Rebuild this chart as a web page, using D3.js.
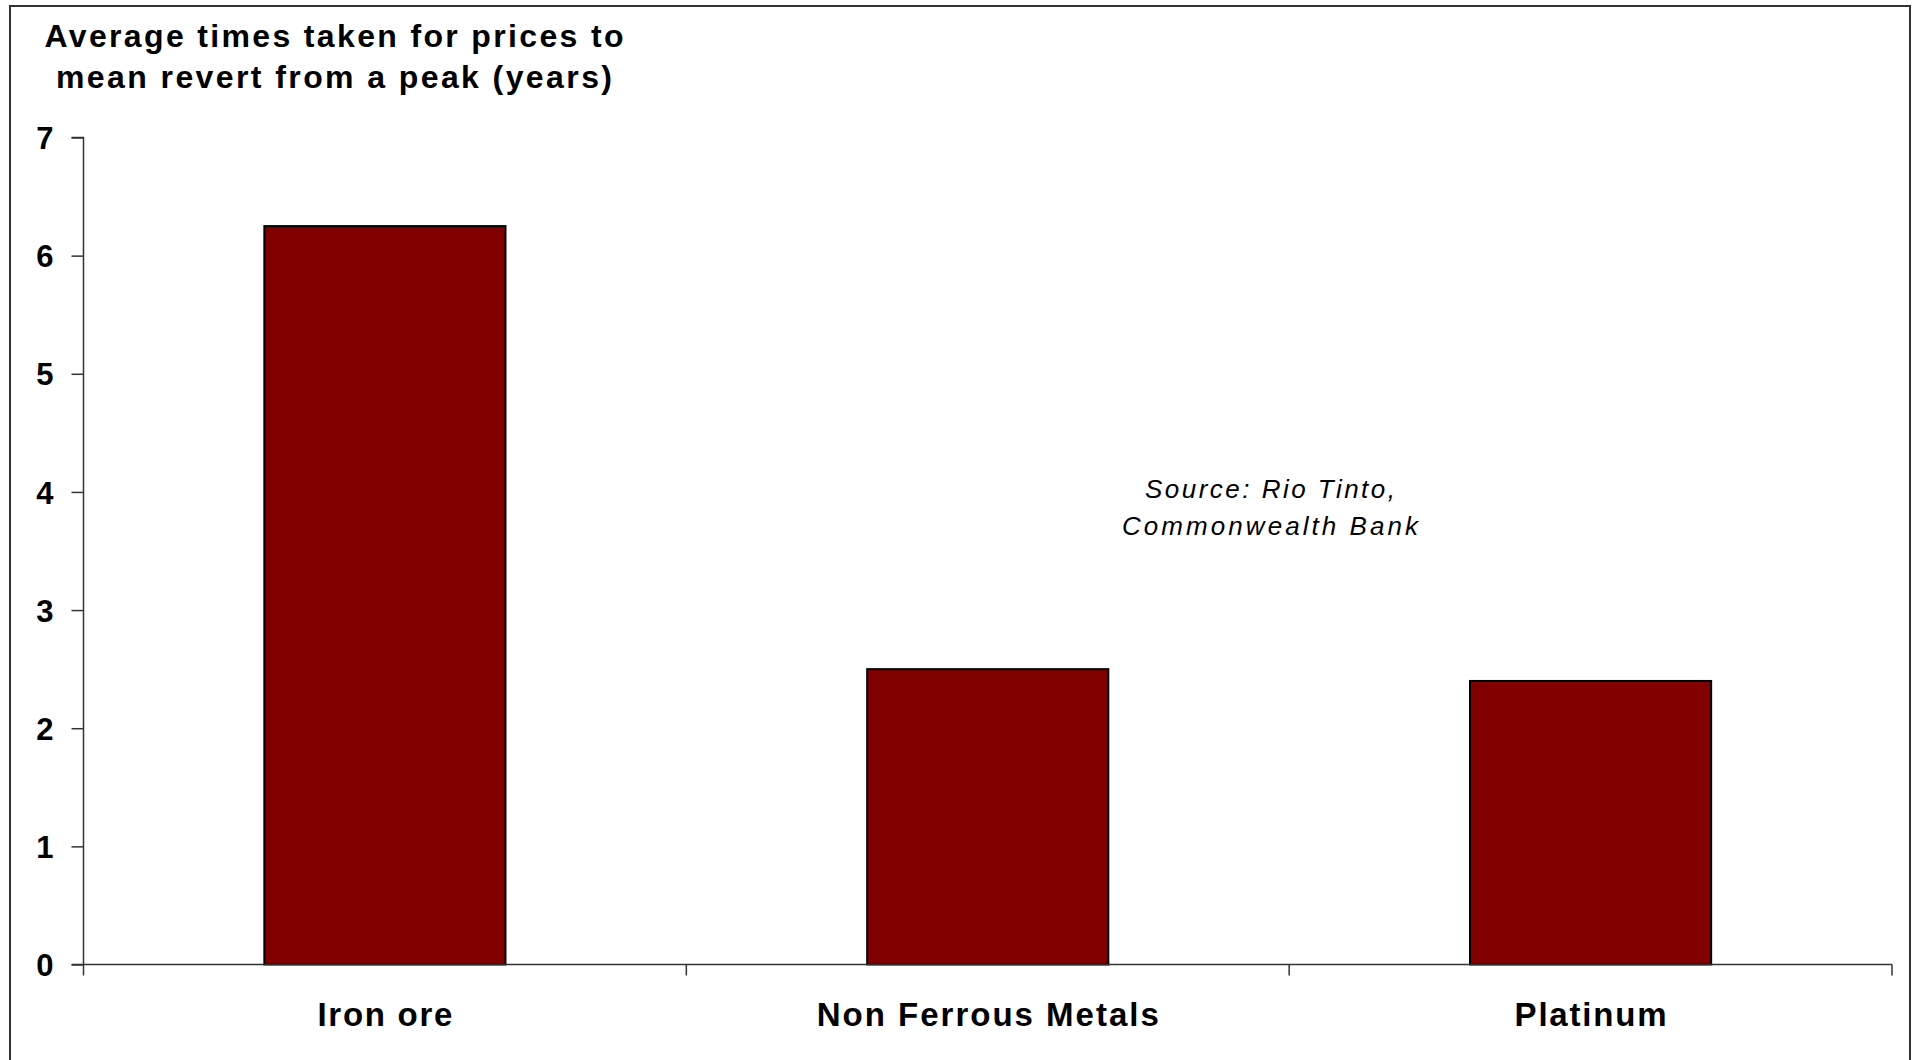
<!DOCTYPE html>
<html>
<head>
<meta charset="utf-8">
<script src="https://cdn.jsdelivr.net/npm/d3@7"></script>
<style>
  html, body { margin: 0; padding: 0; background: #fff; }
  svg { display: block; }
  text { font-family: Arial, "Liberation Sans", Helvetica, sans-serif; fill: #000; }
</style>
</head>
<body>
<svg id="chart" width="1912" height="1060"></svg>
<script>
const categories = ["Iron ore", "Non Ferrous Metals", "Platinum"];
const values = [6.25, 2.5, 2.4];
const yTickValues = [0, 1, 2, 3, 4, 5, 6, 7];
const titleLines = ["Average times taken for prices to", "mean revert from a peak (years)"];
const sourceLines = ["Source: Rio Tinto,", "Commonwealth Bank"];

const svg = d3.select("#chart");

// outer frame (bottom edge falls outside the picture)
svg.append("rect")
  .attr("x", 10).attr("y", 6)
  .attr("width", 1900).attr("height", 1100)
  .attr("fill", "none").attr("stroke", "#333").attr("stroke-width", 2);

const x0 = 83.5, x1 = 1892;
const x = d3.scaleBand().domain(categories).range([x0, x1])
  .paddingInner(0.6).paddingOuter(0.3);
const y = d3.scaleLinear().domain([0, 7]).range([964.5, 137.5]);

// bars
svg.append("g").selectAll("rect")
  .data(categories.map((c, i) => ({ c, v: values[i] })))
  .join("rect")
  .attr("x", d => x(d.c))
  .attr("y", d => y(d.v))
  .attr("width", x.bandwidth())
  .attr("height", d => y(0) - y(d.v))
  .attr("fill", "#800000")
  .attr("stroke", "#000")
  .attr("stroke-width", 2);

// y axis
const yAxis = d3.axisLeft(y).tickValues(yTickValues).tickSize(12).tickPadding(18)
  .tickFormat(d3.format("d"));
const gy = svg.append("g").attr("transform", `translate(${x0},0)`).call(yAxis);
gy.select(".domain").attr("stroke", "#333").attr("stroke-width", 1.5)
  .attr("d", `M-12,${y(7)}H0V${y(0)}`);
gy.selectAll(".tick line").attr("stroke", "#333").attr("stroke-width", 1.5);
gy.selectAll(".tick text")
  .attr("x", -30)
  .style("font-size", "31px").style("font-weight", "bold")
  .style("font-family", "Arial, 'Liberation Sans', sans-serif")
  .attr("dy", "0.36em");

// x axis line and boundary ticks
const step = x.step();
const boundaries = d3.range(categories.length + 1).map(i => x0 + i * step);
svg.append("line")
  .attr("x1", x0 - 12).attr("x2", x1)
  .attr("y1", y(0)).attr("y2", y(0))
  .attr("stroke", "#333").attr("stroke-width", 1.5);
svg.append("g").selectAll("line").data(boundaries).join("line")
  .attr("x1", d => d).attr("x2", d => d)
  .attr("y1", y(0)).attr("y2", y(0) + 11)
  .attr("stroke", "#333").attr("stroke-width", 1.5);

// category labels
const labelWidths = [135, 342, 152];
svg.append("g").selectAll("text").data(categories).join("text")
  .attr("x", d => x(d) + x.bandwidth() / 2)
  .attr("y", 1025.5)
  .attr("text-anchor", "middle")
  .attr("textLength", (d, i) => labelWidths[i])
  .attr("lengthAdjust", "spacing")
  .style("font-size", "33px").style("font-weight", "bold")
  .text(d => d);

// title
const titleWidths = [579, 556];
svg.append("g").selectAll("text").data(titleLines).join("text")
  .attr("x", 334)
  .attr("y", (d, i) => 46.5 + i * 41)
  .attr("text-anchor", "middle")
  .attr("textLength", (d, i) => titleWidths[i])
  .attr("lengthAdjust", "spacing")
  .style("font-size", "32px").style("font-weight", "bold")
  .text(d => d);

// source note
const sourceWidths = [250, 296];
svg.append("g").selectAll("text").data(sourceLines).join("text")
  .attr("x", 1270)
  .attr("y", (d, i) => 498 + i * 37)
  .attr("text-anchor", "middle")
  .attr("textLength", (d, i) => sourceWidths[i])
  .attr("lengthAdjust", "spacing")
  .style("font-size", "26px").style("font-style", "italic")
  .text(d => d);
</script>
</body>
</html>
